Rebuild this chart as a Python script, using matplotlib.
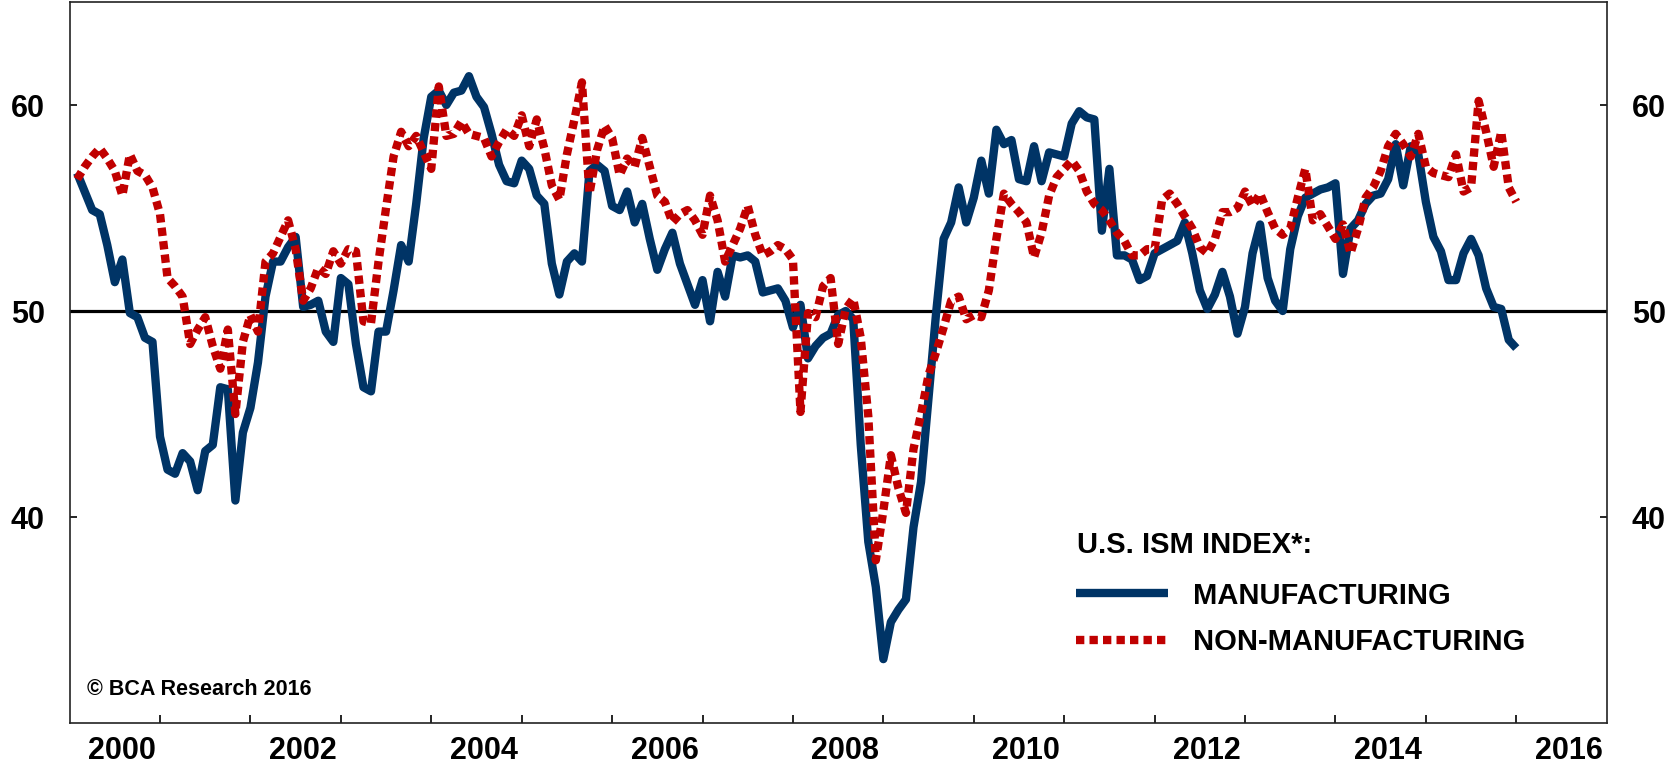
import matplotlib
matplotlib.use("Agg")
import matplotlib.pyplot as plt
import pandas as pd

# monthly ISM readings, Jan 2000 - Dec 2015
manufacturing = [
    56.7, 55.8, 54.9, 54.7, 53.2, 51.4, 52.5, 49.9, 49.7, 48.7, 48.5, 43.9,  # 2000
    42.3, 42.1, 43.1, 42.7, 41.3, 43.2, 43.5, 46.3, 46.2, 40.8, 44.1, 45.3,  # 2001
    47.5, 50.7, 52.4, 52.4, 53.1, 53.6, 50.2, 50.3, 50.5, 49.0, 48.5, 51.6,  # 2002
    51.3, 48.4, 46.3, 46.1, 49.0, 49.0, 51.0, 53.2, 52.4, 55.2, 58.4, 60.4,  # 2003
    60.7, 60.0, 60.6, 60.7, 61.4, 60.4, 59.9, 58.6, 57.1, 56.3, 56.2, 57.3,  # 2004
    56.9, 55.6, 55.2, 52.3, 50.8, 52.4, 52.8, 52.4, 56.8, 57.1, 56.8, 55.1,  # 2005
    54.9, 55.8, 54.3, 55.2, 53.5, 52.0, 53.0, 53.8, 52.3, 51.3, 50.3, 51.5,  # 2006
    49.5, 51.9, 50.7, 52.7, 52.6, 52.7, 52.4, 50.9, 51.0, 51.1, 50.5, 49.2,  # 2007
    50.3, 47.7, 48.3, 48.7, 48.9, 49.8, 50.0, 49.6, 43.5, 38.8, 36.6, 33.1,  # 2008
    34.9, 35.5, 36.0, 39.5, 41.7, 45.8, 49.9, 53.5, 54.3, 56.0, 54.3, 55.5,  # 2009
    57.3, 55.7, 58.8, 58.1, 58.3, 56.4, 56.3, 58.0, 56.3, 57.7, 57.6, 57.5,  # 2010
    59.1, 59.7, 59.4, 59.3, 53.9, 56.9, 52.7, 52.7, 52.5, 51.5, 51.7, 52.8,  # 2011
    53.0, 53.2, 53.4, 54.3, 52.8, 51.0, 50.1, 50.8, 51.9, 50.7, 48.9, 50.2,  # 2012
    52.8, 54.2, 51.6, 50.5, 50.0, 53.0, 54.6, 55.5, 55.7, 55.9, 56.0, 56.2,  # 2013
    51.8, 54.0, 54.4, 55.2, 55.6, 55.7, 56.4, 58.1, 56.1, 58.0, 57.6, 55.3,  # 2014
    53.6, 52.9, 51.5, 51.5, 52.8, 53.5, 52.7, 51.1, 50.2, 50.1, 48.6, 48.2,  # 2015
]

non_manufacturing = [
    56.4, 57.0, 57.5, 57.9, 57.4, 56.8, 55.6, 57.6, 56.8, 56.6, 56.0, 54.7,  # 2000
    51.6, 51.2, 50.7, 48.4, 49.1, 49.7, 48.3, 47.2, 49.1, 45.0, 48.5, 49.8,  # 2001
    49.0, 52.4, 52.8, 53.6, 54.4, 53.0, 50.5, 51.1, 52.1, 51.8, 52.9, 52.3,  # 2002
    53.0, 52.9, 49.5, 49.4, 52.4, 55.0, 57.5, 58.7, 58.0, 58.5, 57.7, 56.9,  # 2003
    60.9, 58.5, 58.6, 59.2, 58.6, 58.5, 58.4, 57.5, 58.2, 58.8, 58.5, 59.5,  # 2004
    58.0, 59.3, 57.9, 56.1, 55.4, 57.6, 59.3, 61.1, 55.7, 57.8, 59.0, 58.4,  # 2005
    56.6, 57.4, 57.0, 58.4, 57.0, 55.6, 55.3, 54.3, 54.7, 54.9, 54.4, 53.7,  # 2006
    55.6, 54.4, 52.4, 53.2, 54.0, 55.1, 53.7, 52.7, 52.9, 53.2, 53.0, 52.5,  # 2007
    45.1, 49.9, 49.7, 51.2, 51.6, 48.4, 50.1, 50.6, 48.7, 44.9, 37.9, 40.3,  # 2008
    43.0, 41.4, 40.2, 43.3, 45.0, 46.9, 48.0, 49.2, 50.5, 50.7, 49.6, 49.8,  # 2009
    49.7, 51.0, 53.5, 55.7, 55.2, 54.8, 54.3, 52.6, 53.8, 55.6, 56.5, 56.9,  # 2010
    57.3, 56.8, 55.8, 55.2, 54.9, 54.4, 53.8, 53.4, 52.7, 52.7, 53.0, 53.0,  # 2011
    55.4, 55.7, 55.2, 54.6, 54.0, 53.1, 52.8, 53.5, 54.8, 54.8, 55.0, 55.8,  # 2012
    55.1, 55.7, 54.8, 54.0, 53.7, 54.0, 55.5, 56.9, 54.4, 54.7, 54.1, 53.5,  # 2013
    54.2, 52.8, 54.0, 55.5, 56.0, 56.8, 58.0, 58.6, 58.1, 57.5, 58.6, 57.0,  # 2014
    56.7, 56.6, 56.5, 57.6, 55.8, 56.0, 60.2, 58.7, 57.0, 58.7, 56.0, 55.3,  # 2015
]

year_ticks = list(range(2001, 2017))
label_years = list(range(2000, 2017, 2))
y_ticks = [40, 50, 60]

NAVY = "#003466"
RED = "#C00000"

plt.rcParams["font.family"] = ["Liberation Sans", "DejaVu Sans"]
plt.rcParams["font.weight"] = "bold"

months = pd.date_range("2000-01-01", periods=len(manufacturing), freq="MS")
x = months.year + months.month / 12.0

fig = plt.figure(figsize=(16.75, 7.63), dpi=100)
ax = fig.add_axes([0.04155, 0.05242, 0.91767, 0.94495])

ax.axhline(50, color="black", lw=2.3, zorder=1)
ax.plot(x, manufacturing, color=NAVY, lw=6.0, solid_joinstyle="round",
        solid_capstyle="butt", zorder=3, label="MANUFACTURING")
ax.plot(x, non_manufacturing, color=RED, lw=6.0, linestyle=(0, (1.0, 0.62)),
        dash_capstyle="butt", zorder=4, label="NON-MANUFACTURING")

ax.set_xlim(2000, 2017)
ax.set_ylim(30, 65)

ax.set_xticks(year_ticks)
ax.set_xticks([y + 0.58 for y in label_years], minor=True)
ax.set_xticklabels([str(y) for y in label_years], minor=True)
ax.tick_params(axis="x", which="major", direction="in", length=6, width=1.2,
               labelbottom=False)
ax.tick_params(axis="x", which="minor", length=0, pad=9, labelsize=22)

ax.set_yticks(y_ticks)
ax.tick_params(axis="y", direction="in", length=5, width=1.2, left=True,
               right=True, labelleft=True, labelright=True, pad=18,
               labelsize=22)

for s in ax.spines.values():
    s.set_linewidth(1.2)
    s.set_color("#222222")

ax.text(0.6554, 0.247, "U.S. ISM INDEX*:", transform=ax.transAxes,
        fontsize=21, fontweight="bold", va="center", ha="left")
ax.legend(loc="upper left", bbox_to_anchor=(0.6547, 0.196),
          frameon=False, prop={"size": 21, "weight": "bold"},
          handlelength=3.15, handletextpad=0.86, labelspacing=0.64,
          borderpad=0, borderaxespad=0)

ax.text(0.0116, 0.047, "\u00a9 BCA Research 2016", transform=ax.transAxes,
        fontsize=15.5, fontweight="bold", va="center", ha="left")

fig.savefig("out.png", dpi=100)
